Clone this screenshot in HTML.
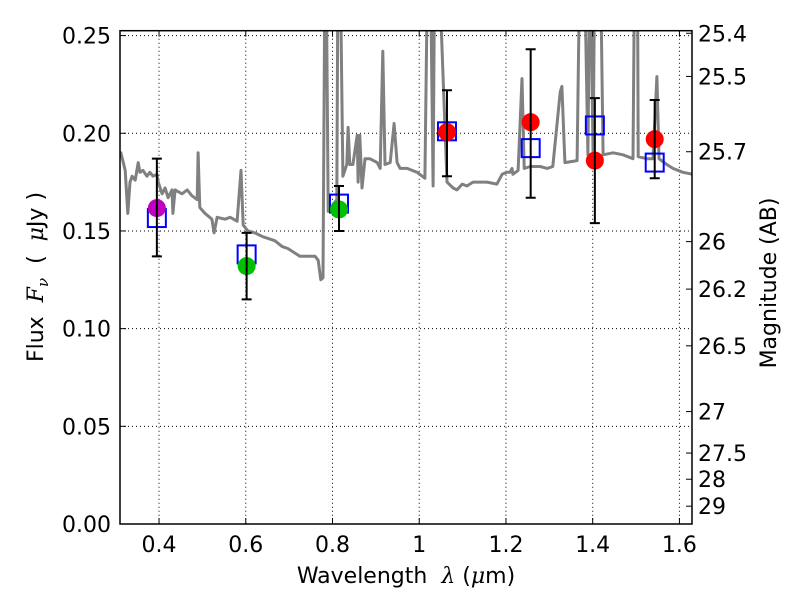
<!DOCTYPE html>
<html><head><meta charset="utf-8"><style>
html,body{margin:0;padding:0;background:#fff;}
svg{display:block;font-family:"DejaVu Sans","Liberation Sans",sans-serif;}
</style></head><body>
<svg id="chart" width="800" height="600" viewBox="0 0 800 600">
<defs><clipPath id="clip"><rect x="120" y="30.7" width="572" height="493.3"/></clipPath></defs>
<g id="grid"></g>
<g id="spec" clip-path="url(#clip)"></g>
<g id="marks"></g>
<rect x="120" y="30.7" width="572" height="493.3" fill="none" stroke="#000" stroke-width="1.5"/>
<g id="axes"></g>
<text x="406" y="583" font-size="22" text-anchor="middle" xml:space="preserve">Wavelength  <tspan font-style="italic" font-family="DejaVu Serif,serif">λ</tspan> (<tspan font-style="italic" font-family="DejaVu Serif,serif">μ</tspan>m)</text>
<text transform="translate(43,277) rotate(-90)" font-size="22" text-anchor="middle" xml:space="preserve">Flux  <tspan font-style="italic" font-family="DejaVu Serif,serif">F</tspan><tspan font-style="italic" font-family="DejaVu Serif,serif" font-size="15" dy="5">ν</tspan><tspan dy="-5">  (  </tspan><tspan font-style="italic" font-family="DejaVu Serif,serif">μ</tspan>Jy )</text>
<text transform="translate(776,283) rotate(-90)" font-size="22" text-anchor="middle">Magnitude (AB)</text>
</svg>
<script>
const xTicks=[0.4,0.6,0.8,1.0,1.2,1.4,1.6];
const xTickLabels=["0.4","0.6","0.8","1","1.2","1.4","1.6"];
const yTicks=[0,0.05,0.10,0.15,0.20,0.25];
const yTickLabels=["0.00","0.05","0.10","0.15","0.20","0.25"];
const magTicks=[25.4,25.5,25.7,26,26.2,26.5,27,27.5,28,29];
const magTickLabels=["25.4","25.5","25.7","26","26.2","26.5","27","27.5","28","29"];
const specWave=[
0.310,0.312,0.322,0.328,0.333,0.338,0.345,0.352,0.356,0.363,
0.372,0.379,0.386,0.395,0.398,0.407,0.414,0.421,0.430,0.432,
0.437,0.453,0.465,0.476,0.488,0.490,0.494,0.506,0.522,0.527,
0.534,0.552,0.564,0.580,0.589,0.594,0.605,0.621,0.640,0.667,
0.684,0.697,0.725,0.760,0.767,0.773,0.778,0.783,0.785,0.790,
0.810,0.813,0.817,0.824,0.833,0.836,0.840,0.847,0.857,0.859,
0.863,0.868,0.875,0.886,0.903,0.910,0.916,0.921,0.933,0.942,
0.949,0.956,0.972,0.995,1.013,1.020,1.025,1.032,1.036,1.043,
1.064,1.078,1.087,1.099,1.110,1.124,1.140,1.156,1.179,1.191,
1.202,1.209,1.214,1.216,1.228,1.237,1.242,1.256,1.279,1.295,
1.308,1.325,1.329,1.336,1.364,1.371,1.380,1.389,1.394,1.401,
1.405,1.417,1.424,1.447,1.470,1.493,1.497,1.503,1.505,1.525,
1.539,1.548,1.553,1.571,1.585,1.608,1.631];
const specFlux=[
0.190,0.190,0.181,0.159,0.175,0.178,0.176,0.185,0.180,0.181,
0.178,0.180,0.178,0.179,0.175,0.169,0.172,0.167,0.171,0.159,
0.171,0.169,0.171,0.168,0.166,0.190,0.162,0.159,0.156,0.149,
0.157,0.156,0.157,0.155,0.181,0.153,0.150,0.149,0.147,0.145,
0.142,0.141,0.137,0.137,0.135,0.125,0.126,0.300,0.300,0.160,
0.166,0.300,0.300,0.178,0.184,0.203,0.184,0.184,0.199,0.175,
0.199,0.172,0.187,0.187,0.185,0.182,0.242,0.184,0.185,0.205,
0.185,0.182,0.182,0.180,0.177,0.300,0.300,0.173,0.300,0.300,
0.175,0.172,0.171,0.174,0.173,0.175,0.175,0.175,0.174,0.179,
0.180,0.180,0.182,0.179,0.181,0.228,0.182,0.183,0.183,0.182,
0.183,0.221,0.224,0.185,0.186,0.300,0.300,0.189,0.300,0.187,
0.300,0.300,0.189,0.190,0.189,0.187,0.300,0.300,0.188,0.187,
0.187,0.229,0.187,0.184,0.182,0.180,0.179];
const obsWave=[0.395,0.602,0.815,1.064,1.257,1.405,1.543];
const obsFlux=[0.1617,0.132,0.161,0.2006,0.2057,0.186,0.197];
const obsErrHi=[0.187,0.149,0.173,0.222,0.243,0.218,0.217];
const obsErrLo=[0.137,0.115,0.150,0.178,0.167,0.154,0.177];
const modelFlux=[0.1566,0.138,0.164,0.201,0.1924,0.204,0.185];
const obsColor=["#bf00bf","#00bf00","#00bf00","#ff0000","#ff0000","#ff0000","#ff0000"];

const NS="http://www.w3.org/2000/svg";
const X0=120,X1=692,Y0=524,Y1=30.7,XMIN=0.31,XMAX=1.629,YMIN=0,YMAX=0.2525;
function xs(v){return X0+(v-XMIN)/(XMAX-XMIN)*(X1-X0);}
function ys(v){return Y0-(v-YMIN)/(YMAX-YMIN)*(Y0-Y1);}
function magToFlux(m){return Math.pow(10,(23.9-m)/2.5);}
function mk(tag,at,parent){const e=document.createElementNS(NS,tag);for(const k in at)e.setAttribute(k,at[k]);parent.appendChild(e);return e;}
const grid=document.getElementById('grid'),axes=document.getElementById('axes'),spec=document.getElementById('spec'),marks=document.getElementById('marks');
xTicks.forEach((t,i)=>{const x=xs(t);
 let g=mk('line',{x1:x,x2:x,y1:Y1,y2:Y0,stroke:'#000','stroke-width':1,'stroke-dasharray':'1,3'},grid);
 
 let tk=mk('line',{x1:x,x2:x,y1:Y0,y2:Y0-6,stroke:'#000','stroke-width':1},axes);
 
 mk('line',{x1:x,x2:x,y1:Y1,y2:Y1+6,stroke:'#000','stroke-width':1},axes);
 let l=mk('text',{x:x,y:552,'font-size':22,'text-anchor':'middle'},axes);l.textContent=xTickLabels[i];
 });
yTicks.forEach((t,i)=>{const y=ys(t);
 let g=mk('line',{x1:X0,x2:X1,y1:y,y2:y,stroke:'#000','stroke-width':1,'stroke-dasharray':'1,3'},grid);
 
 let tk=mk('line',{x1:X0,x2:X0+6,y1:y,y2:y,stroke:'#000','stroke-width':1},axes);
 
 let l=mk('text',{x:111,y:y+8,'font-size':22,'text-anchor':'end'},axes);l.textContent=yTickLabels[i];
 });
magTicks.forEach((m,i)=>{const y=ys(magToFlux(m));
 let tk=mk('line',{x1:X1-6,x2:X1,y1:y,y2:y,stroke:'#000','stroke-width':1},axes);
 
 let l=mk('text',{x:698,y:y+8,'font-size':22},axes);l.textContent=magTickLabels[i];
 });
let d=specWave.map((w,i)=>(i?'L':'M')+xs(w).toFixed(1)+','+ys(specFlux[i]).toFixed(1)).join(' ');
let p=mk('path',{d:d,fill:'none',stroke:'#808080','stroke-width':3,'stroke-linejoin':'round'},spec);

obsWave.forEach((w,i)=>{const x=xs(w);
 let b=mk('rect',{x:x-9,y:ys(modelFlux[i])-9,width:18,height:18,fill:'none',stroke:'#0000ff','stroke-width':2},marks);
 
 let c=mk('circle',{cx:x,cy:ys(obsFlux[i]),r:9,fill:obsColor[i]},marks);
 
 const yh=ys(obsErrHi[i]),yl=ys(obsErrLo[i]);
 let e=mk('path',{d:`M${x},${yh}L${x},${yl}M${x-5},${yh}L${x+5},${yh}M${x-5},${yl}L${x+5},${yl}`,stroke:'#000','stroke-width':2,fill:'none'},marks);
 });
</script>
</body></html>
